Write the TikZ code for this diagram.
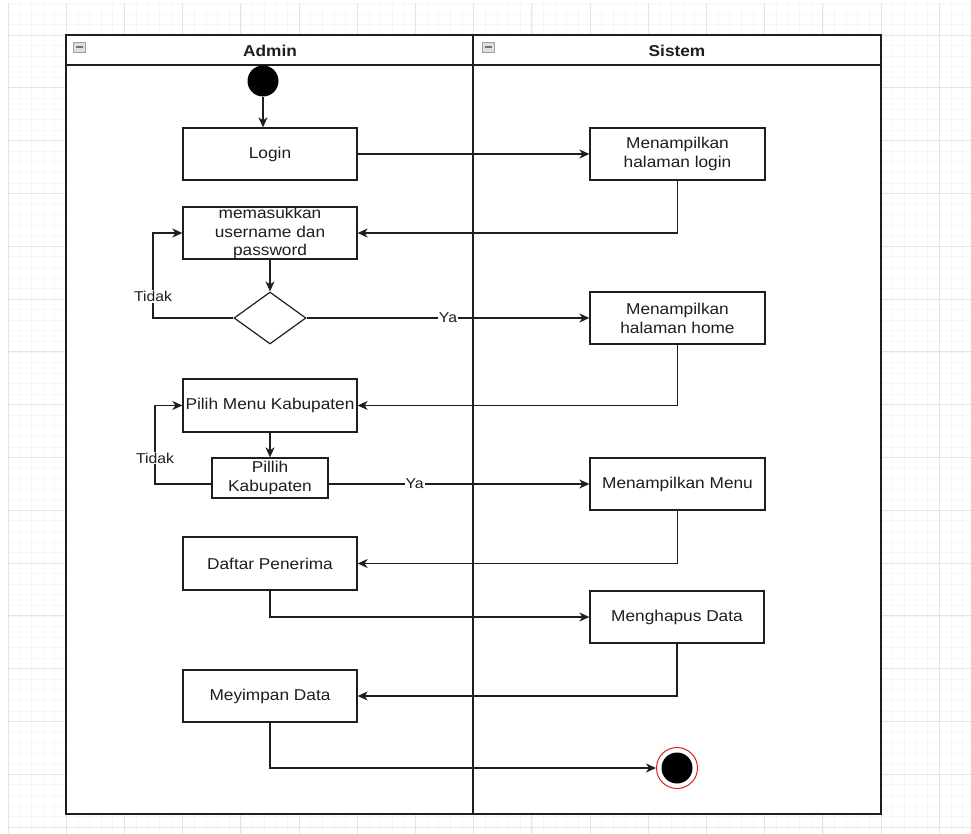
\documentclass[tikz,border=0pt]{standalone}
\usepackage{fontspec}
\setmainfont{Liberation Sans}[FakeStretch=1.1]
\usetikzlibrary{arrows.meta,shapes.geometric,calc}
\definecolor{ink}{RGB}{30,30,30}
\definecolor{gridmajor}{RGB}{228,228,228}
\definecolor{gridminor}{RGB}{246,246,246}
\definecolor{endred}{RGB}{220,30,30}
\begin{document}
\begin{tikzpicture}[x=1pt,y=-1pt,
  every node/.style={text=ink},
  act/.style={draw=ink,line width=1.3pt,fill=white,align=center,inner sep=0pt,
    font=\fontsize{15.7}{19}\selectfont},
  decis/.style={draw=ink,line width=1.2pt,fill=white,diamond,inner sep=0pt,
    minimum width=72pt,minimum height=52pt},
  flow/.style={draw=ink,line width=1.2pt,-{Stealth[length=10pt,width=9pt,inset=3pt]}},
  lbl/.style={fill=white,inner sep=1pt,font=\fontsize{14.3}{16}\selectfont},
  lanehead/.style={font=\fontsize{15.7}{19}\selectfont\bfseries},
  fold/.style={draw=gray!75,fill=gray!25,line width=0.6pt,minimum width=12pt,
    minimum height=10pt,inner sep=0pt}]

\useasboundingbox (0,0) rectangle (971,834);
\fill[white] (0,0) rectangle (971,834);

% background grid
\begin{scope}
  \clip (8,4) rectangle (971,834);
  \foreach \i in {0,...,85} {
    \draw[gridminor,line width=0.6pt] ({8+11.64*\i},0) -- ({8+11.64*\i},834);
  }
  \foreach \j in {-5,...,80} {
    \draw[gridminor,line width=0.6pt] (0,{35+10.56*\j}) -- (971,{35+10.56*\j});
  }
  \foreach \i in {0,...,17} {
    \draw[gridmajor,line width=0.9pt] ({8+58.2*\i},0) -- ({8+58.2*\i},834);
  }
  \foreach \j in {-1,...,16} {
    \draw[gridmajor,line width=0.9pt] (0,{35+52.8*\j}) -- (971,{35+52.8*\j});
  }
\end{scope}

% swimlane pool
\draw[ink,line width=1.4pt,fill=white] (66,35) rectangle (881,814);
\draw[ink,line width=1.4pt] (66,65) -- (881,65);
\draw[ink,line width=1.4pt] (473,35) -- (473,814);
\node[lanehead] (hadmin) at (270,51) {Admin};
\node[lanehead] (hsistem) at (677,51) {Sistem};
\node[fold] (fadmin) at (79,47) {};
\draw[gray!90!black,line width=1.2pt] ($(fadmin.center)+(-3.5,0)$) -- ($(fadmin.center)+(3.5,0)$);
\node[fold] (fsistem) at (488,47) {};
\draw[gray!90!black,line width=1.2pt] ($(fsistem.center)+(-3.5,0)$) -- ($(fsistem.center)+(3.5,0)$);

% start and end states
\node[circle,fill=black,minimum size=31pt,inner sep=0pt] (start) at (263,81) {};
\node[circle,draw=endred,line width=1pt,fill=white,minimum size=41pt,inner sep=0pt] (end) at (677,768) {};
\node[circle,fill=black,minimum size=31pt,inner sep=0pt] (endcore) at (677,768) {};

% activities
\node[act,minimum width=174pt,minimum height=52pt] (login) at (270,154) {Login};
\node[act,minimum width=175pt,minimum height=52pt] (mhl) at (677.5,154) {Menampilkan\\halaman login};
\node[act,minimum width=174pt,minimum height=52pt,font=\fontsize{15.7}{18.5}\selectfont] (input) at (270,233) {memasukkan\\username dan\\password};
\node[decis] (dec) at (270,318) {};
\node[act,minimum width=175pt,minimum height=52pt] (mhh) at (677.5,318) {Menampilkan\\halaman home};
\node[act,minimum width=174pt,minimum height=53pt] (pmk) at (270,405.5) {Pilih Menu Kabupaten};
\node[act,minimum width=116pt,minimum height=40pt] (pk) at (270,478) {Pillih\\Kabupaten};
\node[act,minimum width=175pt,minimum height=52pt] (mm) at (677.5,484) {Menampilkan Menu};
\node[act,minimum width=174pt,minimum height=53pt] (dp) at (270,563.5) {Daftar Penerima};
\node[act,minimum width=174pt,minimum height=52pt] (md) at (677,617) {Menghapus Data};
\node[act,minimum width=174pt,minimum height=52pt] (ms) at (270,696) {Meyimpan Data};

% loop-back corners
\coordinate (t1) at (153,318);
\coordinate (t2) at (155,484);

% control flow
\draw[flow] (start.south) -- (start.south |- login.north);
\draw[flow] (login.east) -- (mhl.west);
\draw[flow] (mhl.south) |- (input.east);
\draw[flow] (input.south) -- (dec.north);
\draw[flow] (dec.west) -- (t1) -- node[lbl,pos=0.25] {Tidak} (t1 |- input.west) -- (input.west);
\draw[flow] (dec.east) -- node[lbl,pos=0.5] {Ya} (mhh.west);
\draw[flow] (mhh.south) |- (pmk.east);
\draw[flow] (pmk.south) -- (pk.north);
\draw[flow] ([yshift=-6pt]pk.west) -- (t2) -- node[lbl,pos=0.33] {Tidak} (t2 |- pmk.west) -- (pmk.west);
\draw[flow] ([yshift=-6pt]pk.east) -- node[lbl,pos=0.33] {Ya} (mm.west);
\draw[flow] (mm.south) |- (dp.east);
\draw[flow] (dp.south) |- (md.west);
\draw[flow] (md.south) |- (ms.east);
\draw[flow] (ms.south) |- (end.west);

\end{tikzpicture}
\end{document}
